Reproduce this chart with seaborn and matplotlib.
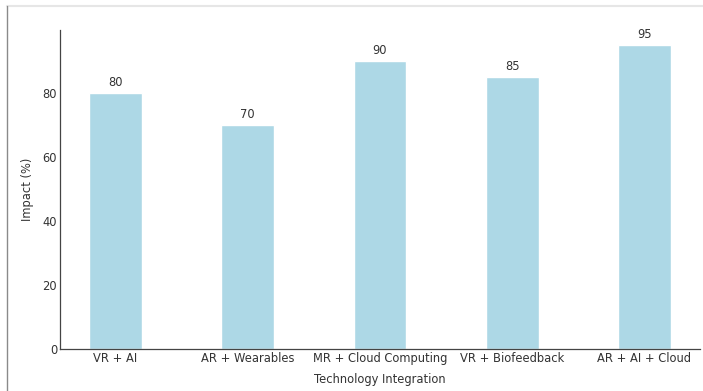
import matplotlib
matplotlib.use("Agg")
import matplotlib.pyplot as plt
from matplotlib.lines import Line2D
import seaborn as sns
import pandas as pd

# Data
categories = ["VR + AI", "AR + Wearables", "MR + Cloud Computing",
              "VR + Biofeedback", "AR + AI + Cloud"]
impact = [80, 70, 90, 85, 95]

df = pd.DataFrame({"Technology Integration": categories, "Impact (%)": impact})

sns.set_style("white")
plt.rcParams["font.family"] = ["DejaVu Sans"]

text_color = "#333333"
fs = 8.3
fig = plt.figure(figsize=(7.03, 3.91), dpi=100)
ax = fig.add_axes([0.0853, 0.1074, 0.9104, 0.8156])

sns.barplot(data=df, x="Technology Integration", y="Impact (%)",
            color="lightblue", saturation=1, width=0.4, ax=ax)

for container in ax.containers:
    ax.bar_label(container, labels=[str(v) for v in impact], padding=3,
                 fontsize=fs, color=text_color)

ax.set_xlim(-0.42, len(categories) - 1 + 0.42)
sns.despine(ax=ax)
for side in ("left", "bottom"):
    ax.spines[side].set_color("#444444")
    ax.spines[side].set_linewidth(0.9)

ax.tick_params(axis="both", direction="inout", length=3, width=0.8,
               colors="#444444", labelsize=fs, labelcolor=text_color, pad=0.5)
ax.set_yticks([0, 20, 40, 60, 80])
ax.set_xlabel("Technology Integration", fontsize=fs, color=text_color, labelpad=6)
ax.set_ylabel("Impact (%)", fontsize=fs, color=text_color, labelpad=6)

# Thin frame along the top and left edges
fig.add_artist(Line2D([0.01, 1.0], [0.985, 0.985], transform=fig.transFigure,
                      color="#e6e6e6", linewidth=1.5))
fig.add_artist(Line2D([0.01, 0.01], [0.0, 0.985], transform=fig.transFigure,
                      color="#8a8a8a", linewidth=1.0))

fig.savefig("out.png", dpi=100, facecolor="white")
